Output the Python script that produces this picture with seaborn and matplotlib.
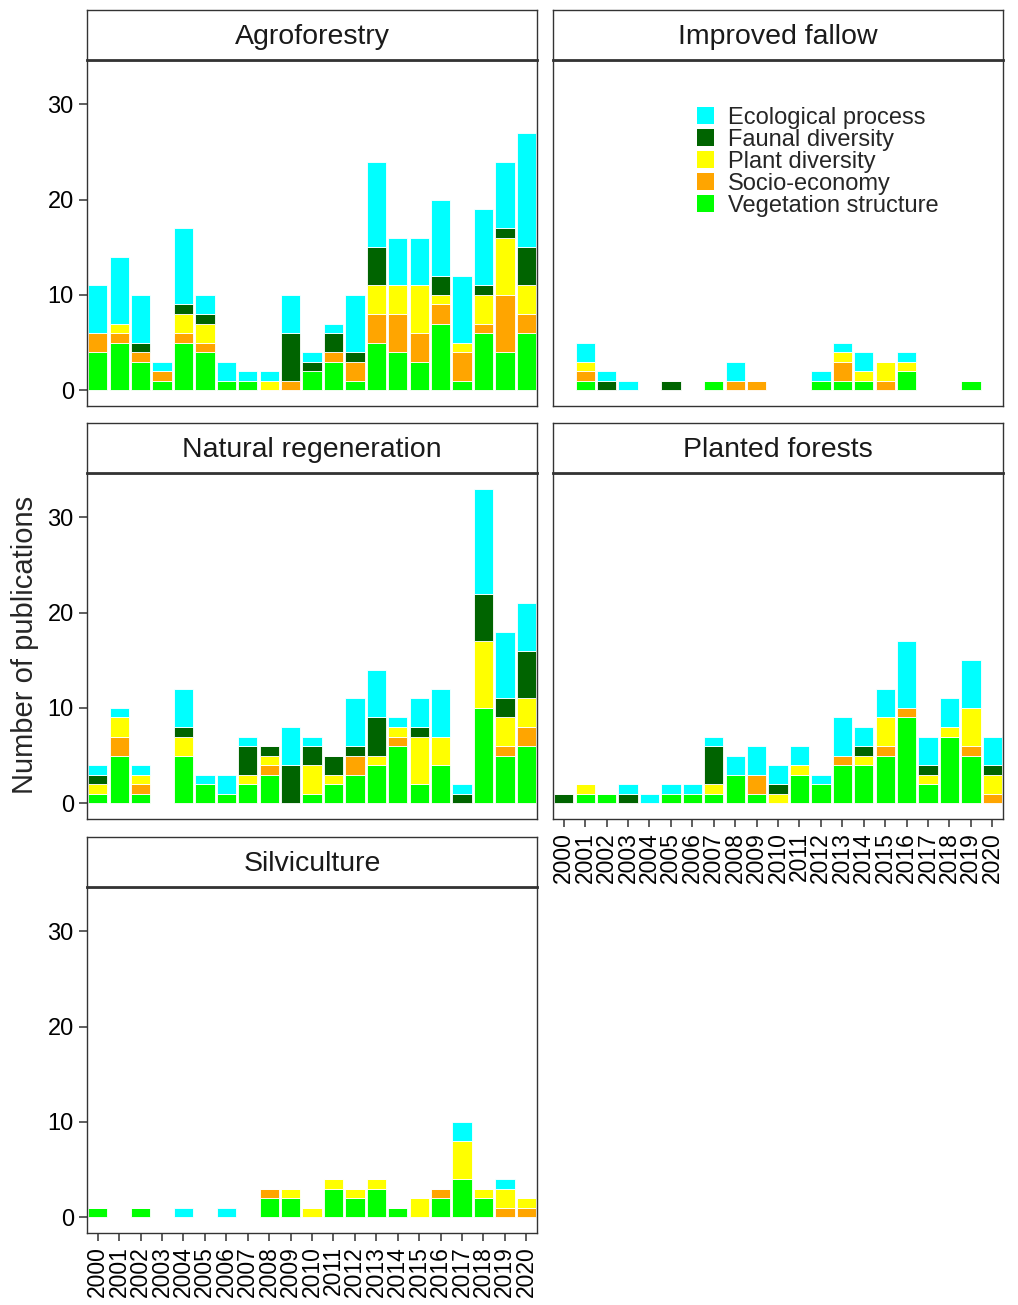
import numpy as np
import pandas as pd
import matplotlib
matplotlib.use("Agg")
import matplotlib.pyplot as plt
import seaborn as sns
from matplotlib.patches import Patch

# ---- data (publications per year, by research topic) ----
years = list(range(2000, 2021))
categories = ["Ecological process", "Faunal diversity", "Plant diversity",
              "Socio-economy", "Vegetation structure"]
colors = ["#00FFFF", "#006400", "#FFFF00", "#FFA500", "#00FF00"]

agroforestry = {
    "Vegetation structure": [4, 5, 3, 1, 5, 4, 1, 1, 0, 0, 2, 3, 1, 5, 4, 3, 7, 1, 6, 4, 6],
    "Socio-economy":        [2, 1, 1, 1, 1, 1, 0, 0, 0, 1, 0, 1, 2, 3, 4, 3, 2, 3, 1, 6, 2],
    "Plant diversity":      [0, 1, 0, 0, 2, 2, 0, 0, 1, 0, 0, 0, 0, 3, 3, 5, 1, 1, 3, 6, 3],
    "Faunal diversity":     [0, 0, 1, 0, 1, 1, 0, 0, 0, 5, 1, 2, 1, 4, 0, 0, 2, 0, 1, 1, 4],
    "Ecological process":   [5, 7, 5, 1, 8, 2, 2, 1, 1, 4, 1, 1, 6, 9, 5, 5, 8, 7, 8, 7, 12],
}
improved_fallow = {
    "Vegetation structure": [0, 1, 0, 0, 0, 0, 0, 1, 0, 0, 0, 0, 1, 1, 1, 0, 2, 0, 0, 1, 0],
    "Socio-economy":        [0, 1, 0, 0, 0, 0, 0, 0, 1, 1, 0, 0, 0, 2, 0, 1, 0, 0, 0, 0, 0],
    "Plant diversity":      [0, 1, 0, 0, 0, 0, 0, 0, 0, 0, 0, 0, 0, 1, 1, 2, 1, 0, 0, 0, 0],
    "Faunal diversity":     [0, 0, 1, 0, 0, 1, 0, 0, 0, 0, 0, 0, 0, 0, 0, 0, 0, 0, 0, 0, 0],
    "Ecological process":   [0, 2, 1, 1, 0, 0, 0, 0, 2, 0, 0, 0, 1, 1, 2, 0, 1, 0, 0, 0, 0],
}
natural_regeneration = {
    "Vegetation structure": [1, 5, 1, 0, 5, 2, 1, 2, 3, 0, 1, 2, 3, 4, 6, 2, 4, 0, 10, 5, 6],
    "Socio-economy":        [0, 2, 1, 0, 0, 0, 0, 0, 1, 0, 0, 0, 2, 0, 1, 0, 0, 0, 0, 1, 2],
    "Plant diversity":      [1, 2, 1, 0, 2, 0, 0, 1, 1, 0, 3, 1, 0, 1, 1, 5, 3, 0, 7, 3, 3],
    "Faunal diversity":     [1, 0, 0, 0, 1, 0, 0, 3, 1, 4, 2, 2, 1, 4, 0, 1, 0, 1, 5, 2, 5],
    "Ecological process":   [1, 1, 1, 0, 4, 1, 2, 1, 0, 4, 1, 0, 5, 5, 1, 3, 5, 1, 11, 7, 5],
}
planted_forests = {
    "Vegetation structure": [0, 1, 1, 0, 0, 1, 1, 1, 3, 1, 0, 3, 2, 4, 4, 5, 9, 2, 7, 5, 0],
    "Socio-economy":        [0, 0, 0, 0, 0, 0, 0, 0, 0, 2, 0, 0, 0, 1, 0, 1, 1, 0, 0, 1, 1],
    "Plant diversity":      [0, 1, 0, 0, 0, 0, 0, 1, 0, 0, 1, 1, 0, 0, 1, 3, 0, 1, 1, 4, 2],
    "Faunal diversity":     [1, 0, 0, 1, 0, 0, 0, 4, 0, 0, 1, 0, 0, 0, 1, 0, 0, 1, 0, 0, 1],
    "Ecological process":   [0, 0, 0, 1, 1, 1, 1, 1, 2, 3, 2, 2, 1, 4, 2, 3, 7, 3, 3, 5, 3],
}
silviculture = {
    "Vegetation structure": [1, 0, 1, 0, 0, 0, 0, 0, 2, 2, 0, 3, 2, 3, 1, 0, 2, 4, 2, 0, 0],
    "Socio-economy":        [0, 0, 0, 0, 0, 0, 0, 0, 1, 0, 0, 0, 0, 0, 0, 0, 1, 0, 0, 1, 1],
    "Plant diversity":      [0, 0, 0, 0, 0, 0, 0, 0, 0, 1, 1, 1, 1, 1, 0, 2, 0, 4, 1, 2, 1],
    "Faunal diversity":     [0, 0, 0, 0, 0, 0, 0, 0, 0, 0, 0, 0, 0, 0, 0, 0, 0, 0, 0, 0, 0],
    "Ecological process":   [0, 0, 0, 0, 1, 0, 1, 0, 0, 0, 0, 0, 0, 0, 0, 0, 0, 2, 0, 1, 0],
}

# facet name, data, (left px, top px), show x axis, show y axis
panels = [
    ("Agroforestry", agroforestry, (87, 60), False, True),
    ("Improved fallow", improved_fallow, (553, 60), False, False),
    ("Natural regeneration", natural_regeneration, (87, 473), False, True),
    ("Planted forests", planted_forests, (553, 473), True, False),
    ("Silviculture", silviculture, (87, 887), True, True),
]


def to_long(counts):
    rows = []
    for cat in categories:
        for yr, n in zip(years, counts[cat]):
            rows.append((yr, cat, n))
    return pd.DataFrame(rows, columns=["year", "category", "n"])


sns.set_style("white")
plt.rcParams["font.family"] = ["Liberation Sans", "DejaVu Sans"]

W, H = 1018, 1305
PW, PH, SH = 450, 346, 50
fig = plt.figure(figsize=(W / 100, H / 100), dpi=100)
palette = dict(zip(categories, colors))
edge = "#333333"


def px_axes(left, top, width, height):
    return fig.add_axes([left / W, 1 - (top + height) / H, width / W, height / H])


for name, counts, (left, top), show_x, show_y in panels:
    df = to_long(counts)
    ax = px_axes(left, top, PW, PH)
    sns.histplot(data=df, x="year", weights="n", hue="category",
                 hue_order=categories, palette=palette, multiple="stack",
                 discrete=True, shrink=0.9, alpha=1, edgecolor="white",
                 linewidth=0.6, legend=False, ax=ax)
    ax.set_xlim(1999.5, 2020.5)
    ax.set_ylim(-1.65, 34.65)
    ax.set_xlabel("")
    ax.set_ylabel("")
    for sp in ax.spines.values():
        sp.set_color(edge)
        sp.set_linewidth(1.0)

    ax.set_yticks([0, 10, 20, 30])
    ax.set_xticks(years)
    ax.tick_params(axis="both", direction="out", color=edge, width=1.1,
                   labelcolor="black")
    if show_y:
        ax.tick_params(axis="y", length=5.5, pad=4, left=True, labelsize=17)
    else:
        ax.tick_params(axis="y", left=False, labelleft=False)
    if show_x:
        ax.tick_params(axis="x", length=5.5, pad=4, bottom=True, labelsize=16.5)
        ax.set_xticklabels([str(y) for y in years], rotation=90)
    else:
        ax.tick_params(axis="x", bottom=False, labelbottom=False)

    # facet strip
    sax = px_axes(left, top - SH, PW, SH)
    sax.set_xticks([])
    sax.set_yticks([])
    sax.set_facecolor("white")
    for sp in sax.spines.values():
        sp.set_color(edge)
        sp.set_linewidth(1.0)
    sax.spines["bottom"].set_linewidth(2.0)
    sax.text(0.5, 0.46, name, ha="center", va="center", fontsize=20.5,
             color="#1a1a1a", transform=sax.transAxes)

    if name == "Improved fallow":
        handles = [Patch(facecolor=c, edgecolor="none") for c in colors]
        ax.legend(handles, categories, loc="upper left",
                  bbox_to_anchor=(0.32, 0.865), frameon=False, fontsize=17,
                  handlelength=0.7, handleheight=0.75, handletextpad=0.6,
                  labelspacing=0.0, borderpad=0, borderaxespad=0)

fig.text(25 / W, 1 - 645 / H, "Number of publications", rotation=90,
         ha="center", va="center", fontsize=21)

fig.savefig("out.png", dpi=100)
